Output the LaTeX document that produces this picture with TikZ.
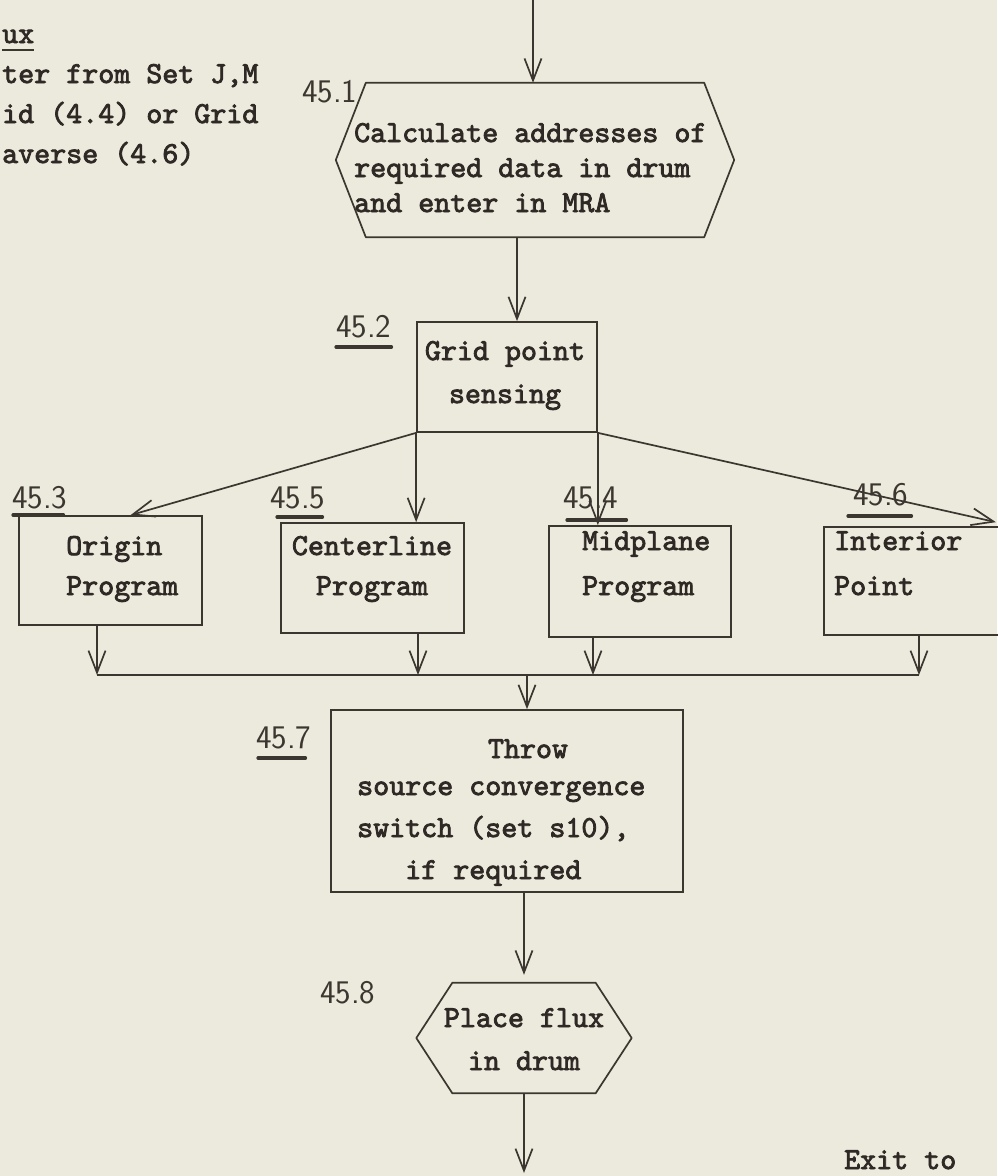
\documentclass[tikz,border=0pt]{standalone}
\usepackage{fontspec}
\usetikzlibrary{arrows.meta}
\newfontfamily\twfont[FakeBold=2.6]{lmmono10-regular.otf}
\definecolor{paper}{RGB}{236,233,221}
\definecolor{ink}{RGB}{60,54,48}
\definecolor{typeink}{RGB}{46,41,36}
% stacked typewritten lines, first baseline is the node baseline
\newcommand{\leftlines}[1]{\begin{tabular}[t]{@{}l@{}}#1\end{tabular}}
\newcommand{\midlines}[1]{\begin{tabular}[t]{@{}c@{}}#1\end{tabular}}

\begin{document}
\begin{tikzpicture}[x=1pt,y=-1pt,
  conn/.style={draw=ink, line width=1.7pt},
  arr/.style={conn, -{Straight Barb[length=22pt,width=17pt]}},
  boxn/.style={draw=ink, line width=1.7pt, rectangle, inner sep=0pt},
  hexn/.style={rectangle, inner sep=0pt},
  tw/.style={font=\twfont\fontsize{30.5}{#1}\selectfont, text=typeink, inner sep=0pt},
  numlab/.style={font=\sffamily\fontsize{33}{36}\selectfont, text=ink, inner sep=0pt, anchor=base west},
  uline/.style={draw=ink, line width=3.2pt, line cap=round}]

\fill[paper] (0,0) rectangle (997,1176);
\useasboundingbox (0,0) rectangle (997,1176);

% entry note at the upper left
\node[tw=40, anchor=base west] (fl) at (2,43) {ux};
\draw[conn, line width=1.3pt] ([yshift=-7pt]fl.base west) -- ([yshift=-7pt]fl.base east);
\node[tw=40, anchor=base west] (en) at (2,83) {\leftlines{ter from Set J,M\\id (4.4) or Grid\\averse (4.6)}};

% 45.1 address calculation
\node[hexn, minimum width=338pt, minimum height=154pt] (h1) at (535,160) {};
\draw[conn, line join=round] (h1.north west) -- (h1.north east) -- ([xshift=30pt]h1.east)
  -- (h1.south east) -- (h1.south west) -- ([xshift=-30pt]h1.west) -- cycle;
\node[tw=35, anchor=base west] (h1t) at (354,142) {\leftlines{Calculate addresses of\\required data in drum\\and enter in MRA}};
\node[numlab] (l1) at (302,102) {45.1};

% 45.2 grid point sensing
\node[boxn, minimum width=180pt, minimum height=110pt] (b2) at (507,377) {};
\node[tw=43, anchor=base] (b2t) at (505,360) {\midlines{Grid point\\sensing}};
\node[numlab] (l2) at (336,337) {45.2};
\draw[uline] ([yshift=-10pt]l2.base west) -- ([yshift=-10pt]l2.base east);

% the four programs
\node[boxn, minimum width=183pt, minimum height=109pt] (b3) at (110.5,570.5) {};
\node[tw=40, anchor=base west] (b3t) at (66,555) {\leftlines{Origin\\Program}};
\node[numlab] (l3) at (12,508) {45.3};
\draw[uline] ([yshift=-7pt,xshift=1pt]l3.base west) -- ([yshift=-7pt,xshift=-4pt]l3.base east);

\node[boxn, minimum width=183pt, minimum height=110pt] (b5) at (372.5,578) {};
\node[tw=40, anchor=base] (b5t) at (372,555) {\midlines{Centerline\\Program}};
\node[numlab] (l5) at (270,508) {45.5};
\draw[uline] ([yshift=-9pt,xshift=7pt]l5.base west) -- ([yshift=-9pt,xshift=-3pt]l5.base east);

\node[boxn, minimum width=182pt, minimum height=111pt] (b4) at (640,581.5) {};
\node[tw=45, anchor=base west] (b4t) at (582,550) {\leftlines{Midplane\\Program}};
\node[numlab] (l4) at (563,508) {45.4};
\draw[uline] ([yshift=-12pt,xshift=4pt]l4.base west) -- ([yshift=-12pt,xshift=8pt]l4.base east);

\node[boxn, minimum width=176pt, minimum height=108pt] (b6) at (912,581) {};
\node[tw=45, anchor=base west] (b6t) at (834,550) {\leftlines{Interior\\Point}};
\node[numlab] (l6) at (853,505) {45.6};
\draw[uline] ([yshift=-11pt,xshift=-5pt]l6.base west) -- ([yshift=-11pt,xshift=3pt]l6.base east);

% 45.7 convergence switch
\node[boxn, minimum width=352pt, minimum height=182pt] (b7) at (507,801) {};
\node[tw=42, anchor=base] (b7a) at (528,758) {Throw};
\node[tw=42, anchor=base west] (b7t) at (357,795) {\leftlines{source convergence\\switch (set s10),\\\phantom{iff}if required}};
\node[numlab] (l7) at (256,748) {45.7};
\draw[uline] ([yshift=-10pt,xshift=2pt]l7.base west) -- ([yshift=-10pt,xshift=-6pt]l7.base east);

% 45.8 store flux
\node[hexn, minimum width=143pt, minimum height=110pt] (h8) at (524,1038) {};
\draw[conn, line join=round] (h8.north west) -- (h8.north east) -- ([xshift=36pt]h8.east)
  -- (h8.south east) -- (h8.south west) -- ([xshift=-36pt]h8.west) -- cycle;
\node[tw=43, anchor=base] (h8t) at (524,1027) {\midlines{Place flux\\in drum}};
\node[numlab] (l8) at (320,1003) {45.8};

\node[tw=40, anchor=base west] (ex) at (844,1169) {Exit to};

% flow lines
\coordinate (entry) at (533,0);
\coordinate (exitpt) at (524,1173);
\coordinate (busM) at (527,675);

\draw[arr] (entry) -- (entry |- h1.north);
\draw[arr] ([xshift=10pt]b2.north |- h1.south) -- ([xshift=10pt]b2.north);

\draw[arr] (b2.south west) -- ([xshift=20pt]b3.north);
\draw[arr] (b2.south west) -- (b2.south west |- b5.north);
\draw[arr] (b2.south east) -- (b2.south east |- b4.north);
\draw[arr] (b2.south east) -- ([xshift=-5pt,yshift=4pt]b6.north east);

\draw[arr] ([xshift=-13.5pt]b3.south) -- ([xshift=-13.5pt]b3.south |- busM);
\draw[arr] ([xshift=45.5pt]b5.south) -- ([xshift=45.5pt]b5.south |- busM);
\draw[arr] ([xshift=-47pt]b4.south) -- ([xshift=-47pt]b4.south |- busM);
\draw[arr] ([xshift=7pt]b6.south) -- ([xshift=7pt]b6.south |- busM);
\draw[conn] ([xshift=-13.5pt]b3.south |- busM) -- ([xshift=7pt]b6.south |- busM);

\draw[arr] (busM) -- (busM |- b7.north);
\draw[arr] (h8.north |- b7.south) -- ([yshift=8pt]h8.north);
\draw[arr] (h8.south) -- (exitpt);

\end{tikzpicture}
\end{document}
